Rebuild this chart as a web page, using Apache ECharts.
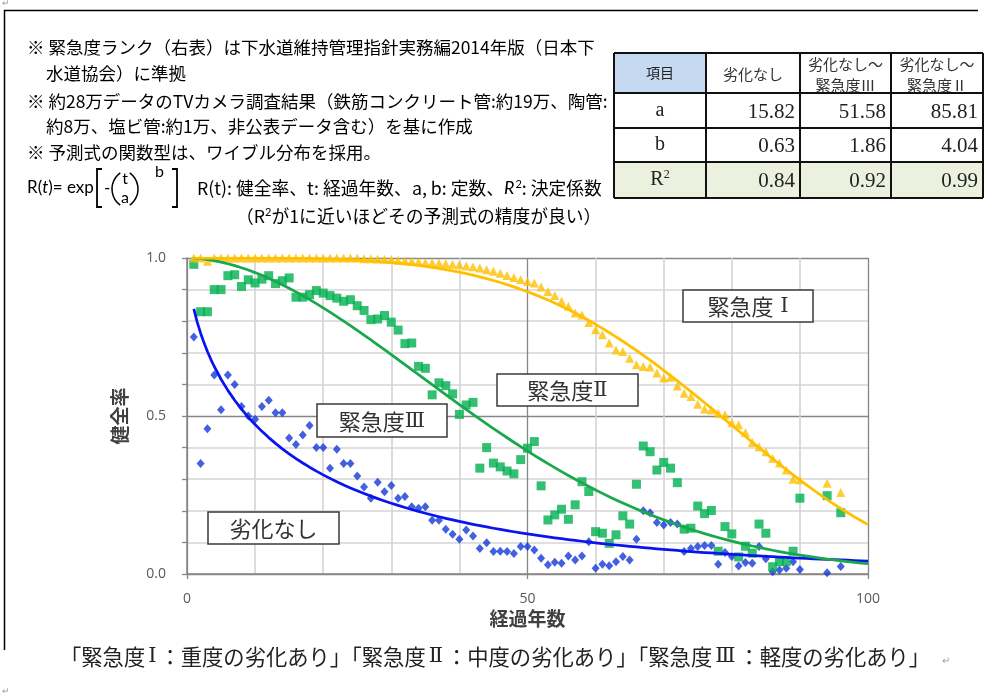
<!DOCTYPE html>
<html>
<head>
<meta charset="utf-8">
<script src="https://cdn.jsdelivr.net/npm/echarts@6/dist/echarts.min.js"></script>
<style>
  html, body { margin: 0; padding: 0; background: #fff; }
  #chart { width: 988px; height: 698px; }
</style>
</head>
<body>
<div id="chart"></div>
<script>
// ---- data ----------------------------------------------------------------
// survey years (elapsed years since installation)
const years = [
  1, 2, 3, 4, 5, 6, 7, 8, 9, 10,
  11, 12, 13, 14, 15, 16, 17, 18, 19, 20,
  21, 22, 23, 24, 25, 26, 27, 28, 29, 30,
  31, 32, 33, 34, 35, 36, 37, 38, 39, 40,
  41, 42, 43, 44, 45, 46, 47, 48, 49, 50,
  51, 52, 53, 54, 55, 56, 57, 58, 59, 60,
  61, 62, 63, 64, 65, 66, 67, 68, 69, 70,
  71, 72, 73, 74, 75, 76, 77, 78, 79, 80,
  81, 82, 83, 84, 85, 86, 87, 88, 89, 90,
  94, 96
];

// 劣化なし (health ratio, blue diamonds)
const rateNone = [
  0.75, 0.35, 0.46, 0.63, 0.52, 0.63, 0.60, 0.53, 0.50, 0.49,
  0.53, 0.55, 0.51, 0.51, 0.43, 0.41, 0.44, 0.47, 0.40, 0.40,
  0.335, 0.395, 0.35, 0.35, 0.31, 0.275, 0.24, 0.29, 0.26, 0.28,
  0.24, 0.245, 0.213, 0.208, 0.213, 0.17, 0.17, 0.142, 0.126, 0.11,
  0.139, 0.12, 0.081, 0.099, 0.071, 0.072, 0.071, 0.065, 0.087, 0.087,
  0.076, 0.05, 0.029, 0.037, 0.034, 0.057, 0.044, 0.057, 0.102, 0.018,
  0.031, 0.026, 0.039, 0.055, 0.044, 0.11, 0.20, 0.194, 0.163, 0.155,
  0.163, 0.158, 0.071, 0.081, 0.087, 0.09, 0.09, 0.031, 0.068, 0.055,
  0.025, 0.036, 0.034, 0.087, 0.048, 0.007, 0.013, 0.018, 0.039, 0.014,
  0.004, 0.024
];

// 劣化なし～緊急度Ⅲ (green squares)
const rateToIII = [
  0.98, 0.83, 0.83, 0.90, 0.90, 0.944, 0.947, 0.91, 0.931, 0.921,
  0.933, 0.944, 0.919, 0.928, 0.937, 0.876, 0.876, 0.884, 0.897, 0.889,
  0.881, 0.873, 0.863, 0.868, 0.849, 0.834, 0.805, 0.807, 0.818, 0.797,
  0.772, 0.729, 0.731, 0.657, 0.651, 0.567, 0.605, 0.596, 0.570, 0.505,
  0.535, 0.543, 0.335, 0.400, 0.351, 0.339, 0.326, 0.317, 0.362, 0.398,
  0.419, 0.279, 0.171, 0.187, 0.205, 0.173, 0.219, 0.292, 0.261, 0.134,
  0.129, 0.097, 0.124, 0.184, 0.158, 0.284, 0.405, 0.387, 0.329, 0.353,
  0.335, 0.289, 0.142, 0.145, 0.215, 0.191, 0.201, 0.072, 0.150, 0.127,
  0.054, 0.088, 0.066, 0.158, 0.129, 0.023, 0.039, 0.039, 0.072, 0.240,
  0.248, 0.194
];

// 劣化なし～緊急度Ⅱ (orange triangles)
const rateToII = [
  1.0, 1.0, 0.99, 1.0, 1.0, 1.0, 1.0, 1.0, 1.0, 1.0,
  1.0, 1.0, 1.0, 1.0, 1.0, 1.0, 1.0, 1.0, 1.0, 1.0,
  1.0, 1.0, 1.0, 1.0, 1.0, 0.998, 0.998, 0.997, 0.996, 0.995,
  0.993, 0.991, 0.99, 0.988, 0.986, 0.985, 0.984, 0.982, 0.98, 0.979,
  0.975, 0.972, 0.968, 0.963, 0.958, 0.952, 0.945, 0.938, 0.932, 0.926,
  0.921, 0.908, 0.894, 0.881, 0.863, 0.847, 0.826, 0.820, 0.796, 0.773,
  0.757, 0.731, 0.709, 0.704, 0.683, 0.662, 0.657, 0.655, 0.636, 0.620,
  0.623, 0.595, 0.572, 0.562, 0.537, 0.522, 0.519, 0.509, 0.504, 0.479,
  0.472, 0.448, 0.416, 0.403, 0.387, 0.366, 0.351, 0.329, 0.300, 0.298,
  0.287, 0.258
];

// Weibull parameters of the fitted curves R(t) = exp[-(t/a)^b]
const tableHeaders = ['項目', '劣化なし', '劣化なし～\n緊急度Ⅲ', '劣化なし～\n緊急度Ⅱ'];
const weibullA = [15.82, 51.58, 85.81];
const weibullB = [0.63, 1.86, 4.04];
const rSquared = [0.84, 0.92, 0.99];

// years at which the fitted curves are traced
const curveYears = [
  1, 1.5, 2, 2.5, 3, 3.5, 4, 5, 6, 7, 8, 9, 10,
  11, 12, 13, 14, 15, 16, 17, 18, 19, 20,
  21, 22, 23, 24, 25, 26, 27, 28, 29, 30,
  31, 32, 33, 34, 35, 36, 37, 38, 39, 40,
  41, 42, 43, 44, 45, 46, 47, 48, 49, 50,
  51, 52, 53, 54, 55, 56, 57, 58, 59, 60,
  61, 62, 63, 64, 65, 66, 67, 68, 69, 70,
  71, 72, 73, 74, 75, 76, 77, 78, 79, 80,
  81, 82, 83, 84, 85, 86, 87, 88, 89, 90,
  91, 92, 93, 94, 95, 96, 97, 98, 99, 100
];

// axis ticks
const xTicks = [0, 50, 100];
const yTicks = [0.0, 0.5, 1.0];

// text blocks
const noteLines = [
  '※ 緊急度ランク（右表）は下水道維持管理指針実務編2014年版（日本下',
  '水道協会）に準拠',
  '※ 約28万データのTVカメラ調査結果（鉄筋コンクリート管:約19万、陶管:',
  '約8万、塩ビ管:約1万、非公表データ含む）を基に作成',
  '※ 予測式の関数型は、ワイブル分布を採用。'
];
const boxWords = ['緊急度', '緊急度', '緊急度', '劣化なし'];
const boxNumerals = [' Ⅰ', 'Ⅱ', 'Ⅲ', ''];
const footerParts = [
  ['「緊急度', 'Ⅰ', '：重度の劣化あり」'],
  ['「緊急度', 'Ⅱ', '：中度の劣化あり」'],
  ['「緊急度', 'Ⅲ', '：軽度の劣化あり」']
];

// ---- helpers -------------------------------------------------------------
const JP = '"Noto Sans CJK JP", "Noto Sans", sans-serif';
const LATIN = 'Lato, "Open Sans", sans-serif';
const SERIF = '"Liberation Serif", "DejaVu Serif", serif';
const ROMAN = '"DejaVu Serif", "Liberation Serif", serif';

const weibull = (t, a, b) => Math.exp(-Math.pow(t / a, b));
const pairs = (xs, ys) => xs.map((x, i) => [x, ys[i]]);
const curve = (k) => curveYears.map(t => [t, weibull(t, weibullA[k], weibullB[k])]);

function text(str, x, y, opt) {
  opt = opt || {};
  return {
    type: 'text', silent: true, z: opt.z || 10,
    style: Object.assign({
      text: str, x: x, y: y,
      fill: opt.fill || '#000',
      font: opt.font || ('17px ' + JP),
      align: opt.align || 'left',
      verticalAlign: opt.verticalAlign || 'middle'
    }, opt.rich ? { rich: opt.rich } : {})
  };
}
function line(x1, y1, x2, y2, color, w, z) {
  return {
    type: 'line', silent: true, z: z || 10,
    shape: { x1: x1, y1: y1, x2: x2, y2: y2 },
    style: { stroke: color, lineWidth: w }
  };
}
function rect(x, y, w, h, fill, stroke, lw, z) {
  return {
    type: 'rect', silent: true, z: z || 9,
    shape: { x: x, y: y, width: w, height: h },
    style: { fill: fill, stroke: stroke || null, lineWidth: lw || 0 }
  };
}

// ---- decorations ---------------------------------------------------------
const graphics = [];

// page frame
graphics.push(line(4, 10.5, 978, 10.5, '#000', 1.5));
graphics.push(line(4.5, 10, 4.5, 650, '#000', 1.5));
graphics.push(text('↵', 2, 3, { font: '9px ' + JP, fill: '#999' }));
graphics.push(text('↵', 2, 691, { font: '9px ' + JP, fill: '#999' }));

// notes
const noteX = [27, 46, 27, 46, 27];
const noteY = [47, 73, 101, 126, 152];
noteLines.forEach((s, i) => graphics.push(text(s, noteX[i], noteY[i], { font: '17.5px ' + JP })));

// formula R(t)= exp[-(t/a)^b]
graphics.push(text('R({i|t})= exp', 27, 188, {
  font: '17px ' + LATIN,
  rich: { i: { font: 'italic 17px ' + LATIN, fill: '#000' } }
}));
// square brackets
graphics.push({ type: 'polyline', silent: true, z: 10,
  shape: { points: [[102, 169], [97, 169], [97, 207], [102, 207]] },
  style: { stroke: '#000', lineWidth: 1.8, fill: null } });
graphics.push({ type: 'polyline', silent: true, z: 10,
  shape: { points: [[172, 169], [177, 169], [177, 207], [172, 207]] },
  style: { stroke: '#000', lineWidth: 1.8, fill: null } });
graphics.push(text('-', 104, 189, { font: '17px ' + LATIN }));
// round brackets around t over a
graphics.push({ type: 'arc', silent: true, z: 10,
  shape: { cx: 132, cy: 189, r: 20, startAngle: Math.PI * 0.7, endAngle: Math.PI * 1.3 },
  style: { stroke: '#000', lineWidth: 1.5, fill: null } });
graphics.push({ type: 'arc', silent: true, z: 10,
  shape: { cx: 118, cy: 189, r: 20, startAngle: -Math.PI * 0.3, endAngle: Math.PI * 0.3 },
  style: { stroke: '#000', lineWidth: 1.5, fill: null } });
graphics.push(text('t', 125, 179, { font: '16px ' + LATIN, align: 'center' }));
graphics.push(text('a', 125, 198, { font: '16px ' + LATIN, align: 'center' }));
graphics.push(text('b', 155, 172, { font: '16px ' + LATIN }));
graphics.push(text('R(t): 健全率、t: 経過年数、a, b: 定数、{i|R}{s|2}: 決定係数', 197, 188, {
  font: '17.8px ' + JP,
  rich: {
    i: { font: 'italic 17.8px ' + LATIN, fill: '#000' },
    s: { font: '11px ' + LATIN, fill: '#000', padding: [0, 0, 8, 1] }
  }
}));
graphics.push(text('（R{s|2}が1に近いほどその予測式の精度が良い）', 236, 216, {
  font: '17.8px ' + JP,
  rich: { s: { font: '11px ' + LATIN, fill: '#000', padding: [0, 0, 8, 0] } }
}));

// parameter table
const colX = [614, 706, 800, 891, 983];
const rowY = [53, 93, 128, 162, 198];
graphics.push(rect(colX[0], rowY[0], colX[1] - colX[0], rowY[1] - rowY[0], '#c5d9f1', null, 0, 8));
graphics.push(rect(colX[0], rowY[3], colX[4] - colX[0], rowY[4] - rowY[3], '#ebf1de', null, 0, 8));
graphics.push(text(tableHeaders[0], (colX[0] + colX[1]) / 2, 73, { font: '14px ' + JP, align: 'center', fill: '#222' }));
graphics.push(text(tableHeaders[1], (colX[1] + colX[2]) / 2, 74, { font: '15px ' + JP, align: 'center', fill: '#333' }));
[2, 3].forEach(c => {
  const parts = tableHeaders[c].split('\n');
  graphics.push(text(parts[0], (colX[c] + colX[c + 1]) / 2, 64, { font: '15px ' + JP, align: 'center', fill: '#333' }));
  graphics.push(text(parts[1], (colX[c] + colX[c + 1]) / 2, 85, { font: '15px ' + JP, align: 'center', fill: '#333' }));
});
const rowLabelY = [111, 145, 180];
graphics.push(text('a', (colX[0] + colX[1]) / 2, rowLabelY[0], { font: '20px ' + SERIF, align: 'center', fill: '#222' }));
graphics.push(text('b', (colX[0] + colX[1]) / 2, rowLabelY[1], { font: '20px ' + SERIF, align: 'center', fill: '#222' }));
graphics.push(text('R{s|2}', (colX[0] + colX[1]) / 2, rowLabelY[2], {
  font: '20px ' + SERIF, align: 'center', fill: '#222',
  rich: { s: { font: '12px ' + SERIF, fill: '#222', padding: [0, 0, 10, 0] } }
}));
[weibullA, weibullB, rSquared].forEach((vals, r) => {
  vals.forEach((v, c) => {
    graphics.push(text(v.toFixed(2), colX[c + 2] - 5, rowLabelY[r] + 1, { font: '21px ' + SERIF, align: 'right', fill: '#222' }));
  });
});
rowY.forEach(y => graphics.push(line(colX[0], y, colX[4], y, '#111', 2, 11)));
colX.forEach(x => graphics.push(line(x, rowY[0], x, rowY[4], '#111', 2, 11)));

// footer legend of urgency ranks
graphics.push(text(footerParts.map(p => p[0] + '{r|' + p[1] + '}' + p[2]).join(''), 60, 657, {
  font: '21.3px ' + JP, fill: '#222',
  rich: { r: { font: '21px ' + ROMAN, fill: '#222', padding: [0, 3, 0, 3] } }
}));
graphics.push(text('↵', 942, 660, { font: '10px ' + JP, fill: '#999' }));

// labelled boxes inside the plot
const boxRects = [[683, 290, 130, 32], [497, 374, 141, 32], [317, 404, 130, 33], [208, 512, 131, 32]];
boxRects.forEach((b, i) => {
  graphics.push(rect(b[0], b[1], b[2], b[3], '#fff', '#3a3a3a', 1.5, 20));
  const label = boxNumerals[i] ? boxWords[i] + '{r|' + boxNumerals[i] + '}' : boxWords[i];
  graphics.push(text(label, b[0] + b[2] / 2, b[1] + b[3] / 2 + 1, {
    font: '22px ' + JP, align: 'center', fill: '#333', z: 21,
    rich: { r: { font: '21px ' + ROMAN, fill: '#333' } }
  }));
});

// ---- chart ---------------------------------------------------------------
const axisGrey = '#868686';
const option = {
  backgroundColor: '#fff',
  animation: false,
  grid: { left: 187, right: 120, top: 258, bottom: 124, containLabel: false },
  xAxis: {
    type: 'value', min: 0, max: 100, interval: 50,
    name: '経過年数', nameLocation: 'middle', nameGap: 35,
    nameTextStyle: { fontSize: 19, fontWeight: 'bold', color: '#404040', fontFamily: JP },
    axisLine: { show: true, lineStyle: { color: axisGrey, width: 1.5 } },
    axisTick: { show: true, length: 5, lineStyle: { color: axisGrey, width: 1.3 } },
    axisLabel: { margin: 18, fontSize: 14, color: '#595959', fontFamily: '"Open Sans", sans-serif',
      formatter: v => (xTicks.indexOf(v) >= 0 ? String(v) : '') },
    splitLine: { show: true, lineStyle: { color: axisGrey, width: 1.3 } },
    minorTick: { show: false, splitNumber: 5 },
    minorSplitLine: { show: true, lineStyle: { color: '#d4d4d4', width: 1.6 } }
  },
  yAxis: {
    type: 'value', min: 0, max: 1, interval: 0.5,
    name: '健全率', nameLocation: 'middle', nameGap: 58, nameRotate: 90,
    nameTextStyle: { fontSize: 19, fontWeight: 'bold', color: '#404040', fontFamily: JP },
    axisLine: { show: true, lineStyle: { color: axisGrey, width: 1.5 } },
    axisTick: { show: true, length: 5, lineStyle: { color: axisGrey, width: 1.3 } },
    minorTick: { show: true, splitNumber: 5, length: 5, lineStyle: { color: axisGrey, width: 1.3 } },
    axisLabel: { margin: 21, fontSize: 14, color: '#595959', fontFamily: '"Open Sans", sans-serif',
      formatter: v => (yTicks.indexOf(v) >= 0 ? v.toFixed(1) : '') },
    splitLine: { show: true, lineStyle: { color: axisGrey, width: 1.3 } },
    minorSplitLine: { show: true, lineStyle: { color: '#d4d4d4', width: 1.6 } }
  },
  series: [
    { name: '劣化なし', type: 'scatter', data: pairs(years, rateNone),
      symbol: 'diamond', symbolSize: [8, 9], itemStyle: { color: '#1438d8' }, z: 3 },
    { name: '劣化なし～緊急度Ⅲ', type: 'scatter', data: pairs(years, rateToIII),
      symbol: 'rect', symbolSize: 9, itemStyle: { color: '#00b050' }, z: 3 },
    { name: '劣化なし～緊急度Ⅱ', type: 'scatter', data: pairs(years, rateToII),
      symbol: 'triangle', symbolSize: 9, itemStyle: { color: '#ffc000' }, z: 3 },
    { name: '劣化なし(近似)', type: 'line', data: curve(0), showSymbol: false, smooth: false,
      lineStyle: { color: '#0a14f0', width: 2.75, join: 'round' }, z: 4 },
    { name: '緊急度Ⅲ(近似)', type: 'line', data: curve(1), showSymbol: false, smooth: false,
      lineStyle: { color: '#1aa84c', width: 2.75, join: 'round' }, z: 4 },
    { name: '緊急度Ⅱ(近似)', type: 'line', data: curve(2), showSymbol: false, smooth: false,
      lineStyle: { color: '#ffc000', width: 2.75, join: 'round' }, z: 4 }
  ],
  graphic: graphics
};

const chart = echarts.init(document.getElementById('chart'), null, { renderer: 'canvas' });
chart.setOption(option);
</script>
</body>
</html>
